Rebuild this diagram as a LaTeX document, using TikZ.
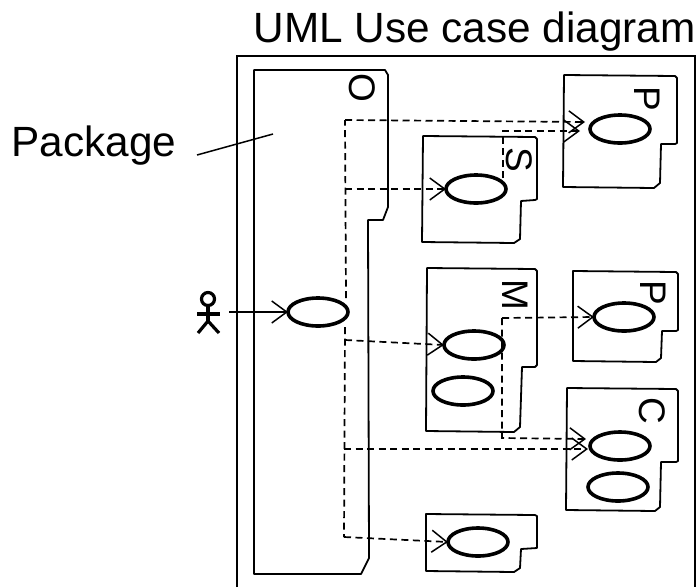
\documentclass[tikz,border=0pt]{standalone}
\usepackage{fontspec}
\setmainfont{Liberation Sans}
\usetikzlibrary{arrows.meta, shapes.geometric}
\tikzset{
	usecase/.style={draw, ellipse, line width=3.6pt, minimum width=60pt, minimum height=28pt, inner sep=0pt, outer sep=0pt},
	pkgline/.style={line width=1.8pt, line join=round},
	pkgname/.style={rotate=-90, inner sep=0pt, font=\fontsize{37}{37}\selectfont},
	bigtext/.style={inner sep=0pt, font=\fontsize{42.3}{42.3}\selectfont},
	depends/.style={line width=1.7pt, dash pattern=on 7pt off 4.5pt, -{Straight Barb[length=15pt,width=22pt,line width=1.5pt]}},
	bus/.style={line width=1.7pt, dash pattern=on 7pt off 4.5pt},
	assoc/.style={line width=1.5pt, -{Straight Barb[length=15pt,width=22pt]}}
}

\begin{document}
\begin{tikzpicture}[x=1pt, y=-1pt]
	\useasboundingbox (0, 0) rectangle (698, 587);

	% labels and frame
	\node[bigtext] (title) at (474.5, 32) {UML Use case diagram};
	\node[bigtext] (pkglabel) at (94, 145.5) {Package};
	\draw[line width=1.8pt] (237, 587) -- (237, 56) -- (695, 56) -- (695, 587);

	% package outlines
	\draw[pkgline] (254, 70) -- (385, 70) -- (388, 75) -- (388, 207) -- (383, 220) -- (368, 220) -- (369, 558) -- (361, 574) -- (254, 574) -- cycle; % O
	\draw[pkgline] (423, 136) -- (535, 137) -- (537, 139) -- (537, 199) -- (535, 200) -- (521, 201) -- (520, 239) -- (514, 243) -- (422, 242) -- cycle; % S
	\draw[pkgline] (564, 75) -- (675, 76) -- (677, 78) -- (677, 143) -- (675, 144) -- (661, 144) -- (660, 183) -- (654, 188) -- (563, 187) -- cycle; % P top
	\draw[pkgline] (427, 268) -- (535, 269) -- (537, 271) -- (537, 365) -- (535, 367) -- (522, 367) -- (520, 427) -- (514, 432) -- (426, 431) -- cycle; % M
	\draw[pkgline] (573, 271) -- (676, 272) -- (678, 274) -- (678, 330) -- (676, 331) -- (662, 331) -- (661, 358) -- (656, 362) -- (573, 361) -- cycle; % P lower
	\draw[pkgline] (567, 388) -- (676, 389) -- (678, 391) -- (678, 461) -- (676, 462) -- (661, 462) -- (660, 507) -- (655, 511) -- (566, 510) -- cycle; % C
	\draw[pkgline] (426, 514) -- (535, 515) -- (537, 516) -- (537, 548) -- (521, 549) -- (520, 568) -- (514, 572) -- (426, 571) -- cycle; % bottom

	% package names
	\node[pkgname] (nameO) at (362, 88) {O};
	\node[pkgname] (nameS) at (519, 160) {S};
	\node[pkgname] (nameP) at (647, 99) {P};
	\node[pkgname] (nameM) at (515, 295) {M};
	\node[pkgname] (namePb) at (653, 293) {P};
	\node[pkgname] (nameC) at (652, 411) {C};

	% use cases
	\node[usecase] (ucMain) at (318, 312) {};
	\node[usecase] (ucS) at (476, 189) {};
	\node[usecase] (ucP) at (620, 129) {};
	\node[usecase] (ucMa) at (474, 345) {};
	\node[usecase] (ucMb) at (463, 391) {};
	\node[usecase] (ucPb) at (624, 317) {};
	\node[usecase] (ucCa) at (620, 446) {};
	\node[usecase] (ucCb) at (618, 487) {};
	\node[usecase] (ucB) at (478, 542) {};

	% actor
	\draw[line width=3.2pt] (208, 299) circle (6.5);
	\draw[line width=3.2pt] (208, 306) -- (208, 321);
	\draw[line width=3.2pt] (197, 314) -- (220, 314);
	\draw[line width=3.2pt] (198, 333) -- (208, 321) -- (219, 333);
	\coordinate (actor) at (229, 312);
	\draw[assoc] (actor) -- (ucMain.west);

	% junctions
	\coordinate (busTop) at (345, 120);
	\coordinate (busS) at (345, 189);
	\coordinate (busLow) at (345, 327);
	\coordinate (busM) at (345, 340);
	\coordinate (busC) at (344, 449);
	\coordinate (busB) at (344, 537);
	\coordinate (tipP) at (585, 122);
	\coordinate (tipPs) at (580, 131);
	\coordinate (tipCa) at (586, 439);
	\coordinate (tipCb) at (588, 449);
	\coordinate (sUp) at (503, 178);
	\coordinate (sCorner) at (503, 131);
	\coordinate (mUp) at (502, 318);
	\coordinate (mDown) at (502, 438);

	% dashed dependencies
	\draw[bus] (346, 298) -- (busTop);
	\draw[bus] (busLow) -- (busB);
	\draw[depends] (busTop) -- (tipP);
	\draw[depends] (busS) -- (ucS.west);
	\draw[depends] (busM) -- (ucMa.west);
	\draw[depends] (busC) -- (tipCb);
	\draw[depends] (busB) -- (ucB.west);
	\draw[depends] (sUp) -- (sCorner) -- (tipPs);
	\draw[depends] (mUp) -- (ucPb.west);
	\draw[depends] (mUp) -- (mDown) -- (tipCa);

	% leader of the package label
	\coordinate (leaderEnd) at (273, 134);
	\draw[line width=1.5pt] (197, 155) -- (leaderEnd);
\end{tikzpicture}
\end{document}
